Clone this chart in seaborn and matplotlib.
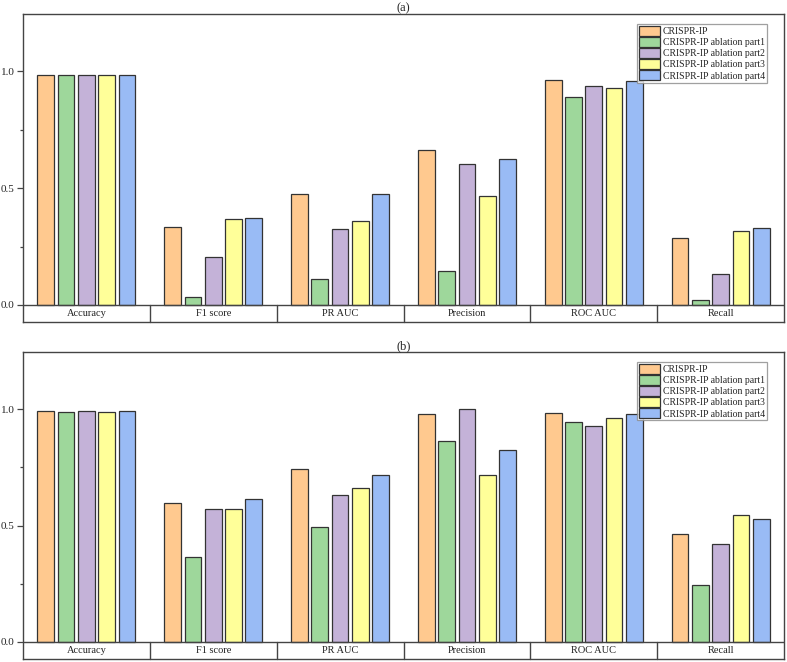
import matplotlib
matplotlib.use("Agg")
import matplotlib.pyplot as plt
from matplotlib.ticker import FixedLocator
import seaborn as sns
import pandas as pd

metrics = ["Accuracy", "F1 score", "PR AUC", "Precision", "ROC AUC", "Recall"]
models = ["CRISPR-IP", "CRISPR-IP ablation part1", "CRISPR-IP ablation part2",
          "CRISPR-IP ablation part3", "CRISPR-IP ablation part4"]
colors = ["#FFC98F", "#9ED79B", "#C4B2D8", "#FFFF99", "#99BBF5"]

# panel (a): one list per model, values in metric order
a_ip    = [0.985, 0.332, 0.473, 0.665, 0.962, 0.288]
a_part1 = [0.984, 0.033, 0.111, 0.147, 0.890, 0.020]
a_part2 = [0.986, 0.204, 0.325, 0.605, 0.936, 0.134]
a_part3 = [0.985, 0.367, 0.358, 0.466, 0.929, 0.318]
a_part4 = [0.986, 0.370, 0.473, 0.624, 0.959, 0.330]

# panel (b)
b_ip    = [0.990, 0.597, 0.741, 0.977, 0.981, 0.464]
b_part1 = [0.987, 0.365, 0.492, 0.862, 0.943, 0.244]
b_part2 = [0.990, 0.569, 0.632, 0.999, 0.926, 0.419]
b_part3 = [0.988, 0.569, 0.663, 0.719, 0.961, 0.546]
b_part4 = [0.990, 0.616, 0.716, 0.825, 0.979, 0.526]

panel_titles = ["(a)", "(b)"]


def to_long(series):
    rows = []
    for model, vals in zip(models, series):
        for m, v in zip(metrics, vals):
            rows.append({"metric": m, "model": model, "value": v})
    return pd.DataFrame(rows)


df_a = to_long([a_ip, a_part1, a_part2, a_part3, a_part4])
df_b = to_long([b_ip, b_part1, b_part2, b_part3, b_part4])

sns.set_style("white")
plt.rcParams["font.family"] = ["Liberation Serif", "DejaVu Serif"]

fig = plt.figure(figsize=(7.87, 6.62), dpi=100)
W, H = 787.0, 662.0
left, right = 23, 784
boxes = [(14, 322), (352, 659)]
YMIN, YMAX = -0.073, 1.245
spine_col = "#444444"

for (top, bot), df, title in zip(boxes, [df_a, df_b], panel_titles):
    ax = fig.add_axes([left / W, 1 - bot / H, (right - left) / W, (bot - top) / H])
    sns.barplot(data=df, x="metric", y="value", hue="model", order=metrics,
                hue_order=models, palette=colors, saturation=1, errorbar=None,
                width=0.8, gap=0.175, edgecolor="#333333", linewidth=0.9, ax=ax)
    ax.set_xlim(-0.5, len(metrics) - 0.5)
    ax.set_ylim(YMIN, YMAX)
    ax.set_xlabel("")
    ax.set_ylabel("")
    ax.set_xticks([])
    ax.yaxis.set_major_locator(FixedLocator([0.0, 0.5, 1.0]))
    ax.yaxis.set_minor_locator(FixedLocator([0.25, 0.75]))
    ax.set_yticklabels(["0.0", "0.5", "1.0"])
    ax.tick_params(axis="y", which="major", direction="out", length=4, width=0.9,
                   color=spine_col, labelsize=8, pad=2, left=True)
    ax.tick_params(axis="y", which="minor", direction="out", length=2.5, width=0.9,
                   color=spine_col, left=True)
    for s in ax.spines.values():
        s.set_visible(True)
        s.set_color(spine_col)
        s.set_linewidth(1.0)
    # baseline and category table below it
    ax.axhline(0, color=spine_col, lw=1.0, zorder=5)
    for i in range(1, len(metrics)):
        ax.plot([i - 0.5, i - 0.5], [YMIN, 0], color=spine_col, lw=1.0,
                clip_on=False, zorder=5)
    for i, m in enumerate(metrics):
        ax.text(i, YMIN / 2, m, ha="center", va="center", fontsize=7.5, color="#222222")
    ax.set_title(title, fontsize=9, pad=2)
    leg = ax.legend(loc="upper right", bbox_to_anchor=(0.9775, 0.967), fontsize=7,
                    frameon=True, fancybox=False, edgecolor="#888888",
                    handlelength=2.2, handleheight=1.15, labelspacing=0.1,
                    handletextpad=0.25, borderpad=0.2, borderaxespad=0.0)
    leg.get_frame().set_linewidth(0.9)
    for h in leg.legend_handles:
        h.set_edgecolor("#333333")
        h.set_linewidth(0.9)

fig.savefig("out.png", dpi=100)
